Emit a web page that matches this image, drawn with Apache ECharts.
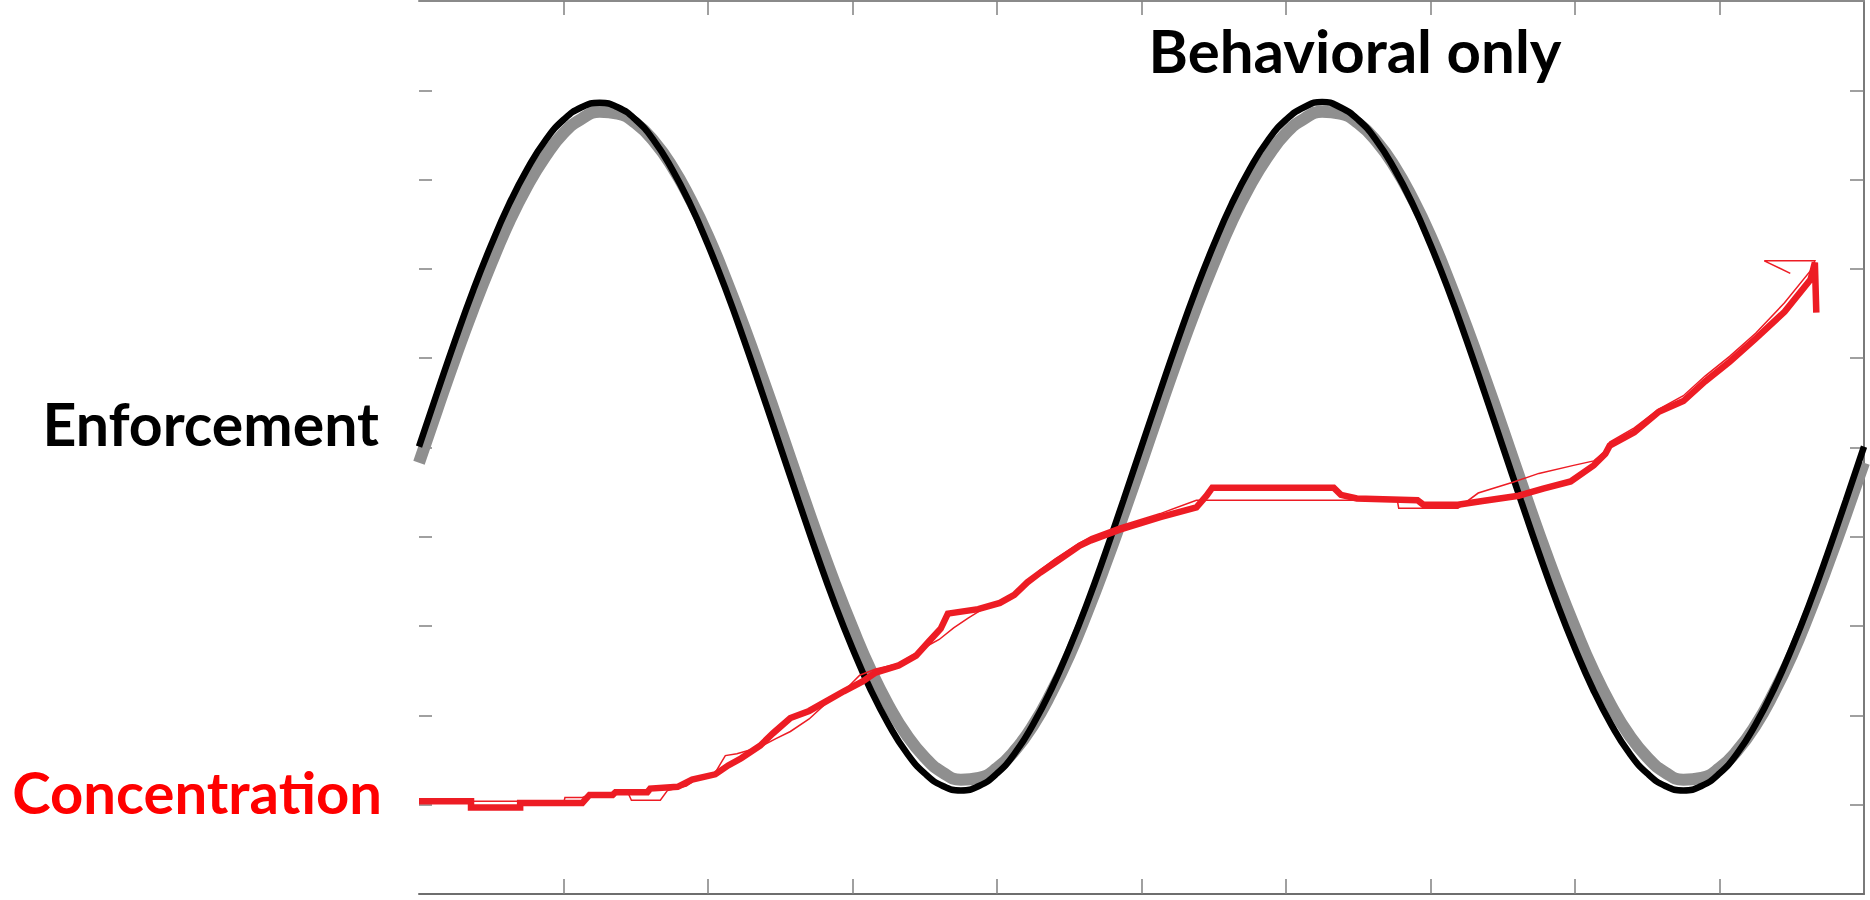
<!DOCTYPE html>
<html>
<head>
<meta charset="utf-8">
<script src="https://cdn.jsdelivr.net/npm/echarts@6.0.0/dist/echarts.min.js"></script>
<style>
html,body{margin:0;padding:0;background:#fff;}
#chart{width:1870px;height:900px;}
svg text{font-variant-ligatures:none;}
</style>
</head>
<body>
<div id="chart"></div>
<script>
// ---- data ----
const sineX = [0,0.125,0.25,0.375,0.5,0.625,0.75,0.875,1,1.125,1.25,1.375,1.5,1.625,1.75,1.875,2,2.125,2.25,2.375,2.5,
               2.625,2.75,2.875,3,3.125,3.25,3.375,3.5,3.625,3.75,3.875,4,4.125,4.25,4.375,4.5,4.625,4.75,4.875,5,
               5.125,5.25,5.375,5.5,5.625,5.75,5.875,6,6.125,6.25,6.375,6.5,6.625,6.75,6.875,7,7.125,7.25,7.375,7.5,
               7.625,7.75,7.875,8,8.125,8.25,8.375,8.5,8.625,8.75,8.875,9,9.125,9.25,9.375,9.5,9.625,9.75,9.875,10];
// enforcement (black line)
const enforcementBlack = [5.01,5.61,6.20,6.76,7.27,7.73,8.12,8.44,8.67,8.81,8.86,8.81,8.67,8.44,8.12,7.73,7.27,6.76,6.20,5.61,5.01,
                          4.41,3.82,3.26,2.75,2.29,1.90,1.58,1.35,1.21,1.16,1.21,1.35,1.58,1.90,2.29,2.75,3.26,3.82,4.41,5.01,
                          5.61,6.20,6.76,7.27,7.73,8.12,8.44,8.67,8.81,8.87,8.81,8.67,8.44,8.12,7.73,7.27,6.76,6.20,5.61,5.01,
                          4.41,3.82,3.26,2.75,2.29,1.90,1.58,1.35,1.21,1.16,1.21,1.35,1.58,1.90,2.29,2.75,3.26,3.82,4.41,5.01];
// enforcement (grey band behind it)
const enforcementGray = [4.83,5.42,6.00,6.55,7.06,7.53,7.93,8.26,8.52,8.68,8.76,8.74,8.63,8.43,8.15,7.79,7.37,6.88,6.35,5.79,5.21,
                         4.62,4.04,3.49,2.98,2.51,2.11,1.78,1.53,1.36,1.28,1.30,1.41,1.61,1.89,2.25,2.67,3.16,3.69,4.25,4.83,
                         5.42,6.00,6.55,7.06,7.53,7.93,8.26,8.52,8.68,8.76,8.74,8.63,8.43,8.15,7.79,7.37,6.88,6.35,5.79,5.21,
                         4.62,4.04,3.49,2.98,2.51,2.11,1.78,1.53,1.36,1.28,1.30,1.41,1.61,1.89,2.25,2.67,3.16,3.69,4.25,4.83];
// concentration, thick trace
const concThickX = [0,0.36,0.36,0.70,0.70,1.13,1.18,1.34,1.36,1.58,1.60,1.79,1.89,2.05,2.14,2.23,2.36,2.45,2.57,2.70,2.82,2.94,
                    3.07,3.16,3.32,3.44,3.53,3.61,3.66,3.87,4.02,4.12,4.21,4.30,4.40,4.57,4.65,4.85,5.13,5.38,5.45,5.49,6.33,
                    6.38,6.49,6.91,6.95,7.19,7.36,7.61,7.78,7.97,8.13,8.21,8.24,8.41,8.58,8.75,8.90,9.07,9.25,9.45,9.63,9.66,9.67];
const concThickY = [1.04,1.04,0.97,0.97,1.02,1.02,1.11,1.11,1.14,1.14,1.18,1.20,1.28,1.34,1.44,1.52,1.66,1.80,1.97,2.05,2.16,2.27,
                    2.38,2.48,2.56,2.67,2.83,2.97,3.14,3.19,3.26,3.35,3.49,3.60,3.71,3.90,3.96,4.08,4.22,4.33,4.46,4.55,4.55,
                    4.47,4.43,4.41,4.36,4.36,4.40,4.46,4.54,4.62,4.80,4.93,5.02,5.17,5.40,5.52,5.74,5.96,6.22,6.52,6.88,7.07,6.51];
// concentration, thin trace
const concThinX = [0,0.70,0.72,1.00,1.01,1.13,1.18,1.45,1.47,1.67,1.72,1.85,1.95,2.05,2.12,2.20,2.35,2.47,2.57,2.70,2.82,2.94,
                   3.05,3.16,3.32,3.44,3.52,3.60,3.70,3.80,3.90,4.02,4.12,4.21,4.30,4.40,4.57,4.65,4.85,5.13,5.38,6.40,6.77,
                   6.78,7.19,7.33,7.57,7.75,7.99,8.13,8.21,8.24,8.41,8.58,8.75,8.90,9.07,9.25,9.45,9.63,9.66,9.31,9.49];
const concThinY = [1.04,1.04,1.01,1.01,1.08,1.08,1.11,1.12,1.05,1.05,1.16,1.21,1.32,1.36,1.55,1.57,1.64,1.74,1.82,1.96,2.14,2.27,
                   2.45,2.52,2.58,2.70,2.78,2.85,2.98,3.09,3.19,3.27,3.36,3.50,3.63,3.75,3.93,4.00,4.12,4.26,4.41,4.41,4.41,
                   4.32,4.32,4.49,4.61,4.71,4.80,4.85,4.96,5.06,5.22,5.43,5.58,5.80,6.02,6.28,6.62,6.98,7.09,7.09,6.95];
// inner tick positions (no tick labels in the reference)
const tickValues = [1,2,3,4,5,6,7,8,9];
const labels = { top: 'Behavioral only', enforcement: 'Enforcement', concentration: 'Concentration' };

const zip = (xs, ys) => xs.map((x, i) => [x, ys[i]]);

const chart = echarts.init(document.getElementById('chart'), null, { renderer: 'svg' });
const tickStyle = { color: '#808080', width: 1.5 };
const FONT = 'Lato, "Open Sans", sans-serif';

chart.setOption({
  animation: false,
  backgroundColor: '#fff',
  grid: { left: 419, right: 6, top: 1, bottom: 6, containLabel: false, show: false, borderWidth: 0 },
  xAxis: [
    { type: 'value', min: 0, max: 10, interval: 1, position: 'bottom',
      axisLine: { show: true, onZero: false, lineStyle: { color: '#6e6e6e', width: 2 } },
      axisTick: { show: true, inside: true, length: 15, customValues: tickValues, lineStyle: tickStyle },
      axisLabel: { show: false }, splitLine: { show: false } },
    { type: 'value', min: 0, max: 10, interval: 1, position: 'top',
      axisLine: { show: true, onZero: false, lineStyle: { color: '#8a8a8a', width: 2 } },
      axisTick: { show: true, inside: true, length: 14, customValues: tickValues, lineStyle: tickStyle },
      axisLabel: { show: false }, splitLine: { show: false } }
  ],
  yAxis: [
    { type: 'value', min: 0, max: 10, interval: 1, position: 'left',
      axisLine: { show: false, onZero: false },
      axisTick: { show: true, inside: true, length: 13, customValues: tickValues, lineStyle: tickStyle },
      axisLabel: { show: false }, splitLine: { show: false } },
    { type: 'value', min: 0, max: 10, interval: 1, position: 'right',
      axisLine: { show: true, onZero: false, lineStyle: { color: '#7a7a7a', width: 2 } },
      axisTick: { show: true, inside: true, length: 14, customValues: tickValues, lineStyle: tickStyle },
      axisLabel: { show: false }, splitLine: { show: false } }
  ],
  series: [
    { name: 'Enforcement band', type: 'line', data: zip(sineX, enforcementGray), smooth: true,
      showSymbol: false, lineStyle: { color: '#8f8f8f', width: 12 }, z: 2 },
    { name: 'Enforcement', type: 'line', data: zip(sineX, enforcementBlack), smooth: true,
      showSymbol: false, lineStyle: { color: '#000', width: 6.5 }, z: 3 },
    { name: 'Concentration thin', type: 'line', data: zip(concThinX, concThinY),
      showSymbol: false, lineStyle: { color: '#ed1c24', width: 1.5, join: 'miter' }, z: 4 },
    { name: 'Concentration', type: 'line', data: zip(concThickX, concThickY),
      showSymbol: false, lineStyle: { color: '#ed1c24', width: 6.5, join: 'miter' }, z: 5 }
  ],
  graphic: [
    { type: 'text', x: 1355, y: 50, z: 10,
      style: { text: labels.top, fill: '#000', font: 'bold 60px ' + FONT,
               textAlign: 'center', align: 'center', textVerticalAlign: 'middle', verticalAlign: 'middle' } },
    { type: 'text', x: 379, y: 423, z: 10,
      style: { text: labels.enforcement, fill: '#000', font: 'bold 59px ' + FONT,
               textAlign: 'right', align: 'right', textVerticalAlign: 'middle', verticalAlign: 'middle' } },
    { type: 'text', x: 382, y: 791, z: 10,
      style: { text: labels.concentration, fill: '#ff0000', font: 'bold 58px ' + FONT,
               textAlign: 'right', align: 'right', textVerticalAlign: 'middle', verticalAlign: 'middle' } }
  ]
});
</script>
</body>
</html>
